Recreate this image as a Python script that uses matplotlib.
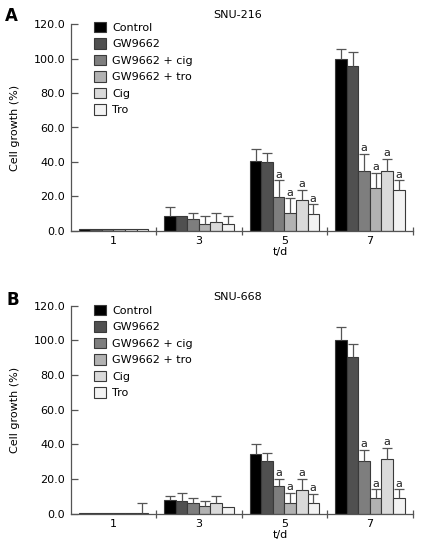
import matplotlib
matplotlib.use("Agg")
import matplotlib.pyplot as plt
import numpy as np

days = ["1", "3", "5", "7"]
series = ["Control", "GW9662", "GW9662 + cig", "GW9662 + tro", "Cig", "Tro"]
colors = ["#000000", "#505050", "#7e7e7e", "#b2b2b2", "#dadada", "#f3f3f3"]

# Panel A: SNU-216  (rows = series, cols = days)
a_vals = [
    [1.0, 8.7, 40.7, 99.8],
    [1.0, 8.7, 39.8, 95.8],
    [1.0, 6.6, 19.4, 34.9],
    [1.0, 3.9, 10.1, 24.6],
    [1.0, 5.2, 17.7, 34.5],
    [1.0, 3.9, 9.5, 23.7],
]
a_err = [
    [0.0, 5.3, 6.6, 6.1],
    [0.0, 0.0, 5.6, 7.9],
    [0.0, 3.5, 9.9, 9.9],
    [0.0, 4.8, 8.7, 8.9],
    [0.0, 4.9, 6.2, 7.2],
    [0.0, 4.8, 5.8, 5.6],
]
a_sig = [
    [False, False, False, False],
    [False, False, False, False],
    [False, False, True, True],
    [False, False, True, True],
    [False, False, True, True],
    [False, False, True, True],
]

# Panel B: SNU-668
b_vals = [
    [0.3, 8.0, 34.3, 100.0],
    [0.3, 7.6, 30.4, 90.2],
    [0.3, 6.4, 16.0, 30.4],
    [0.3, 4.4, 6.2, 9.2],
    [0.3, 6.4, 13.9, 31.7],
    [0.3, 4.0, 6.2, 9.2],
]
b_err = [
    [0.0, 2.4, 5.9, 7.9],
    [0.0, 4.4, 4.4, 7.9],
    [0.0, 2.4, 4.2, 6.4],
    [0.0, 2.8, 5.9, 4.9],
    [0.0, 4.0, 6.3, 6.2],
    [6.0, 0.0, 5.2, 4.9],
]
b_sig = a_sig

yticks = [0, 20, 40, 60, 80, 100, 120]

plt.rcParams["font.family"] = ["DejaVu Sans"]
fig = plt.figure(figsize=(4.25, 5.45), dpi=100)

W = 425.0
H = 545.0
ax_left = 70.7 / W
ax_width = (412.7 - 70.7) / W
axA = fig.add_axes([ax_left, (H - 230.7) / H, ax_width, (230.7 - 24.3) / H])
axB = fig.add_axes([ax_left, (H - 513.7) / H, ax_width, (513.7 - 305.7) / H])

spine_c = "#555555"
edge_c = "#3a3a3a"
bw = 0.135

def draw(ax, vals, errs, sigs, title, leg_y):
    x = np.arange(len(days))
    n = len(series)
    for i in range(n):
        xs = x + (i - (n - 1) / 2) * bw
        v = np.array(vals[i])
        e = np.array(errs[i])
        ax.bar(xs, v, width=bw, color=colors[i], edgecolor=edge_c,
               linewidth=0.8, label=series[i], zorder=2)
        m = e > 0
        ax.vlines(xs[m], v[m], v[m] + e[m], color=spine_c, linewidth=0.9, zorder=3)
        ax.plot(xs[m], v[m] + e[m], ls="none", marker="_", markersize=7.5,
                markeredgewidth=0.9, color=spine_c, zorder=3)
        for j in range(len(days)):
            if sigs[i][j]:
                ax.annotate("a", (xs[j], v[j] + e[j]), xytext=(0, 0.5),
                            textcoords="offset points", ha="center",
                            va="bottom", fontsize=8, color="#222222")
    ax.set_xlim(-0.5, len(days) - 0.5)
    ax.set_ylim(0, 120)
    ax.set_yticks(yticks)
    ax.set_yticklabels([f"{t:.1f}" for t in yticks])
    ax.set_xticks(np.arange(len(days)) + 0.5)
    ax.set_xticklabels([])
    ax.set_xticks(np.arange(len(days)), minor=True)
    ax.set_xticklabels(days, minor=True)
    ax.tick_params(axis="x", which="major", direction="inout", length=6,
                   color=spine_c, width=0.9)
    ax.tick_params(axis="x", which="minor", length=0, pad=4, labelsize=8)
    ax.tick_params(axis="y", direction="in", length=5, color=spine_c,
                   width=0.9, labelsize=8, pad=4)
    for s in ["top", "right"]:
        ax.spines[s].set_visible(False)
    for s in ["left", "bottom"]:
        ax.spines[s].set_color(spine_c)
        ax.spines[s].set_linewidth(0.9)
    ax.set_ylabel("Cell growth (%)", fontsize=8)
    ax.yaxis.set_label_coords(-0.148, 0.5)
    ax.set_xlabel("t/d", fontsize=8)
    ax.xaxis.set_label_coords(0.612, -0.078)
    ax.text(0.489, 1.02, title, transform=ax.transAxes, ha="center",
            va="bottom", fontsize=8)
    ax.legend(loc="upper left", bbox_to_anchor=(0.068, leg_y), frameon=False,
              fontsize=8, handlelength=1.05, handleheight=1.05,
              labelspacing=0.5, handletextpad=0.6, borderpad=0,
              borderaxespad=0)

draw(axA, a_vals, a_err, a_sig, "SNU-216", 1.012)
draw(axB, b_vals, b_err, b_sig, "SNU-668", 1.004)

fig.text(5 / W, 1 - 21 / H, "A", fontsize=12, fontweight="bold", va="baseline")
fig.text(6 / W, 1 - 305 / H, "B", fontsize=12, fontweight="bold", va="baseline")

fig.savefig("out.png", dpi=100)
